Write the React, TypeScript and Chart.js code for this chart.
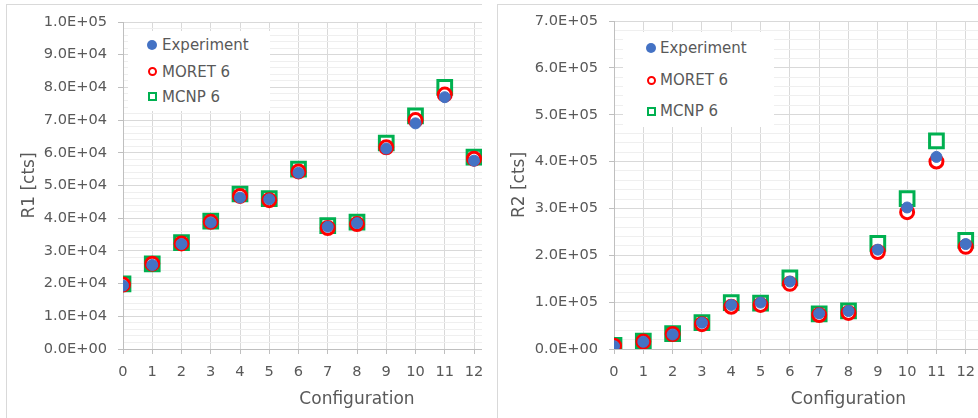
import React, { useEffect, useRef } from 'react';
import { Chart, registerables } from 'chart.js';

Chart.register(...registerables);

// ---- data ----
const configurations = [0, 1, 2, 3, 4, 5, 6, 7, 8, 9, 10, 11, 12];
const seriesNames = ['Experiment', 'MORET 6', 'MCNP 6'];

const r1Experiment = [19400, 25700, 32100, 38700, 46300, 45800, 53900, 37400, 38500, 61300, 69000, 77000, 57600];
const r1Moret = [19700, 26100, 32300, 38900, 46800, 45500, 54300, 37000, 38200, 61700, 70000, 77800, 58200];
const r1Mcnp = [19900, 26000, 32500, 39100, 47400, 46000, 55000, 37700, 38800, 63000, 71300, 80000, 58700];

const r2Experiment = [6000, 15500, 31000, 56000, 94000, 99000, 144000, 76000, 81000, 212000, 302000, 410000, 224000];
const r2Moret = [7000, 16000, 32000, 53000, 90000, 94000, 139000, 72500, 77000, 207000, 292000, 400000, 218000];
const r2Mcnp = [8000, 17000, 33000, 56500, 99000, 98000, 152000, 75000, 81500, 225500, 321000, 444000, 232000];

const xAxisMax = 16;
const r1AxisMax = 100000;
const r1Major = 10000;
const r1Minor = 2000;
const r2AxisMax = 700000;
const r2Major = 100000;
const r2Minor = 20000;

// ---- styles ----
const BLUE = '#4472C4';
const RED = '#FF0000';
const GREEN = '#00B050';
const TEXT = '#595959';
const GRID = '#D9D9D9';
const MINOR = '#EFEFEF';
const AXIS = '#BFBFBF';
const FONT = "'DejaVu Sans', sans-serif";
const TICK_SIZE = 14.6;

function sciLabel(v: number): string {
  const [m, e] = Number(v).toExponential(1).split('e');
  const n = parseInt(e, 10);
  return `${m}E${n < 0 ? '-' : '+'}${String(Math.abs(n)).padStart(2, '0')}`;
}

type ChartProps = {
  exp: number[];
  moret: number[];
  mcnp: number[];
  yMax: number;
  major: number;
  minor: number;
  yTitle: string;
  padTop: number;
  yWidth: number;
  width: number;
};

function ScatterPanel(p: ChartProps) {
  const ref = useRef<HTMLCanvasElement | null>(null);
  useEffect(() => {
    if (!ref.current) return;
    Chart.defaults.font.family = FONT;
    const pts = (arr: number[]) => configurations.map((c, i) => ({ x: c, y: arr[i] }));
    const chart = new Chart(ref.current, {
      type: 'scatter',
      data: {
        datasets: [
          {
            label: seriesNames[0],
            data: pts(p.exp),
            xAxisID: 'x',
            yAxisID: 'y',
            pointStyle: 'circle',
            pointRadius: 5.5,
            pointBorderWidth: 1,
            pointBackgroundColor: BLUE,
            pointBorderColor: BLUE,
            showLine: false,
          },
          {
            label: seriesNames[1],
            data: pts(p.moret),
            xAxisID: 'x',
            yAxisID: 'y',
            pointStyle: 'circle',
            pointRadius: 6.5,
            pointBorderWidth: 3,
            pointBackgroundColor: '#FFFFFF',
            pointBorderColor: RED,
            showLine: false,
          },
          {
            label: seriesNames[2],
            data: pts(p.mcnp),
            xAxisID: 'x',
            yAxisID: 'y',
            pointStyle: 'rect',
            pointRadius: 9.7,
            pointBorderWidth: 3,
            pointBackgroundColor: '#FFFFFF',
            pointBorderColor: GREEN,
            showLine: false,
          },
        ],
      },
      options: {
        responsive: false,
        animation: false,
        layout: { padding: { left: 8, top: p.padTop, right: 29, bottom: 6 } },
        plugins: { legend: { display: false }, tooltip: { enabled: false } },
        scales: {
          x: {
            type: 'linear',
            position: 'bottom',
            min: 0,
            max: xAxisMax,
            ticks: { stepSize: 1, autoSkip: false, color: TEXT, font: { size: TICK_SIZE, family: FONT }, padding: 9 },
            grid: { color: GRID, tickColor: AXIS, tickLength: 5 },
            border: { color: AXIS },
            title: {
              display: true,
              text: 'Configuration',
              color: TEXT,
              font: { size: 17, family: FONT },
              padding: { top: 0, bottom: 2 },
            },
            afterFit: (s: any) => {
              s.height = 63;
            },
          },
          yMinor: {
            type: 'linear',
            position: 'left',
            min: 0,
            max: p.yMax,
            ticks: { display: false, stepSize: p.minor },
            grid: {
              drawTicks: false,
              color: (c: any) =>
                c.tick && Math.round(c.tick.value) % p.major === 0 ? 'rgba(0,0,0,0)' : MINOR,
            },
            border: { display: false },
            afterFit: (s: any) => {
              s.width = 0;
            },
          },
          y: {
            type: 'linear',
            position: 'left',
            min: 0,
            max: p.yMax,
            ticks: {
              stepSize: p.major,
              color: TEXT,
              font: { size: TICK_SIZE, family: FONT },
              padding: 11,
              callback: (v: any) => sciLabel(Number(v)),
            },
            grid: { color: GRID, tickColor: AXIS, tickLength: 5 },
            border: { color: AXIS },
            title: {
              display: true,
              text: p.yTitle,
              color: TEXT,
              font: { size: 17, family: FONT },
              padding: { top: 11, bottom: 0 },
            },
            afterFit: (s: any) => {
              s.width = p.yWidth;
            },
          },
        },
      } as any,
    });
    return () => chart.destroy();
  }, []);
  return (
    <canvas
      ref={ref}
      width={p.width}
      height={418}
      style={{ position: 'absolute', left: 0, top: 0, width: p.width, height: 418 }}
    />
  );
}

type LegendProps = {
  box: { left: number; top: number; width: number; height: number };
  rowsY: number[];
  markerX: number;
  textX: number;
};

function LegendMarker({ idx }: { idx: number }) {
  if (idx === 0)
    return <div style={{ width: 10, height: 10, borderRadius: '50%', background: BLUE }} />;
  if (idx === 1)
    return (
      <div
        style={{
          width: 9,
          height: 9,
          boxSizing: 'border-box',
          borderRadius: '50%',
          border: `2.3px solid ${RED}`,
          background: '#fff',
        }}
      />
    );
  return (
    <div
      style={{
        width: 9,
        height: 9,
        boxSizing: 'border-box',
        border: `2.3px solid ${GREEN}`,
        background: '#fff',
      }}
    />
  );
}

function Legend(l: LegendProps) {
  return (
    <>
      <div
        style={{
          position: 'absolute',
          left: l.box.left,
          top: l.box.top,
          width: l.box.width,
          height: l.box.height,
          background: '#FFFFFF',
        }}
      />
      {seriesNames.map((name, i) => (
        <React.Fragment key={name}>
          <div
            style={{
              position: 'absolute',
              left: l.markerX - 7,
              top: l.rowsY[i] - 7,
              width: 14,
              height: 14,
              display: 'flex',
              alignItems: 'center',
              justifyContent: 'center',
            }}
          >
            <LegendMarker idx={i} />
          </div>
          <div
            style={{
              position: 'absolute',
              left: l.textX,
              top: l.rowsY[i] - 10,
              height: 20,
              lineHeight: '20px',
              fontFamily: FONT,
              fontSize: 15,
              color: TEXT,
              whiteSpace: 'nowrap',
            }}
          >
            {name}
          </div>
        </React.Fragment>
      ))}
    </>
  );
}

export default function App() {
  return (
    <div
      style={{
        position: 'absolute',
        left: 0,
        top: 0,
        width: 978,
        height: 418,
        overflow: 'hidden',
        background: '#FFFFFF',
      }}
    >
      <div style={{ position: 'absolute', left: 0, top: 0, width: 482, height: 418, overflow: 'hidden' }}>
        <div
          style={{
            position: 'absolute',
            left: 6,
            top: 4,
            width: 700,
            height: 500,
            border: `1px solid ${GRID}`,
            background: '#FFFFFF',
          }}
        />
        <ScatterPanel
          exp={r1Experiment}
          moret={r1Moret}
          mcnp={r1Mcnp}
          yMax={r1AxisMax}
          major={r1Major}
          minor={r1Minor}
          yTitle="R1 [cts]"
          padTop={22}
          yWidth={115}
          width={620}
        />
        <Legend
          box={{ left: 128, top: 31, width: 142, height: 80 }}
          rowsY={[45, 71.5, 96.5]}
          markerX={152}
          textX={162}
        />
      </div>
      <div style={{ position: 'absolute', left: 490, top: 0, width: 488, height: 418, overflow: 'hidden' }}>
        <div
          style={{
            position: 'absolute',
            left: 7,
            top: 4,
            width: 700,
            height: 500,
            border: `1px solid ${GRID}`,
            background: '#FFFFFF',
          }}
        />
        <ScatterPanel
          exp={r2Experiment}
          moret={r2Moret}
          mcnp={r2Mcnp}
          yMax={r2AxisMax}
          major={r2Major}
          minor={r2Minor}
          yTitle="R2 [cts]"
          padTop={21}
          yWidth={116}
          width={622}
        />
        <Legend
          box={{ left: 133, top: 32, width: 151, height: 95 }}
          rowsY={[47.5, 80, 111]}
          markerX={161}
          textX={170}
        />
      </div>
    </div>
  );
}
